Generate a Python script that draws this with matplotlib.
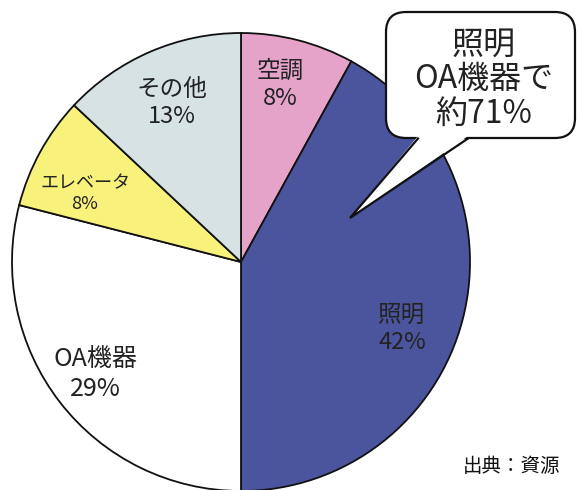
import matplotlib
matplotlib.use("Agg")
import matplotlib.pyplot as plt
from matplotlib.patches import FancyBboxPatch, Polygon

plt.rcParams['font.family'] = ['Noto Sans CJK JP', 'DejaVu Sans']

# データ
categories = ['空調', '照明', 'OA機器', 'エレベータ', 'その他']
shares = [8, 42, 29, 8, 13]
colors = ['#e6a3c9', '#4b559d', '#ffffff', '#f8f27c', '#d6e2e4']

# ラベル位置と文字サイズ (ピクセル座標, 上から)
label_pos = [(280, 85), (402, 329), (95, 374), (85, 194), (172, 103)]
label_size = [17, 17, 18, 13, 17]

callout_text = '照明\nOA機器で\n約71%'
source_text = '出典：資源'

W, H = 579, 490
fig = plt.figure(figsize=(W / 100, H / 100), dpi=100)
ax = fig.add_axes([0, 0, 1, 1])

# 円グラフ
ax.pie(shares, colors=colors, startangle=90, counterclock=False,
       center=(241, H - 262), radius=229, frame=True,
       wedgeprops=dict(edgecolor='#111111', linewidth=1.3))
ax.set_xlim(0, W)
ax.set_ylim(0, H)
ax.set_aspect('equal')
ax.axis('off')

for name, val, (x, y), fs in zip(categories, shares, label_pos, label_size):
    ax.text(x, H - y, f'{name}\n{val}%', ha='center', va='center',
            fontsize=fs, color='#222222', linespacing=1.2, zorder=5)

# 吹き出し
box = FancyBboxPatch((386, H - 138), 189, 126,
                     boxstyle='round,pad=0,rounding_size=20',
                     facecolor='white', edgecolor='#111111', linewidth=1.6, zorder=6)
ax.add_patch(box)
tail = [(418, H - 136), (350, H - 218), (468, H - 136)]
ax.add_patch(Polygon(tail, closed=True, facecolor='white', edgecolor='none', zorder=7))
ax.plot([418, 350, 468], [H - 138.5, H - 218, H - 138.5], color='#111111',
        linewidth=1.6, zorder=8, solid_joinstyle='miter')
ax.text(484, H - 79, callout_text, ha='center', va='center', fontsize=23,
        color='#222222', linespacing=1.1, zorder=9)

# 出典
ax.text(463, H - 466, source_text, ha='left', va='center', fontsize=14,
        color='#111111', zorder=9)

fig.savefig('out.png', dpi=100)
